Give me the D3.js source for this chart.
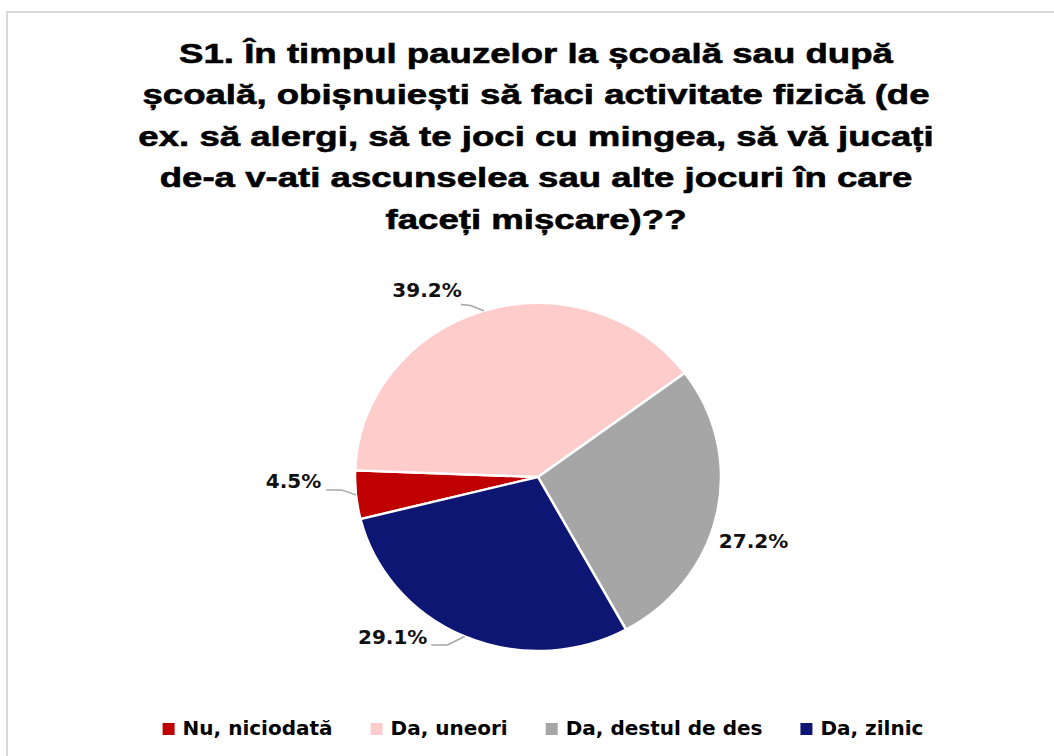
<!DOCTYPE html>
<html>
<head>
<meta charset="utf-8">
<script src="https://cdn.jsdelivr.net/npm/d3@7/dist/d3.min.js"></script>
<style>
  html, body { margin: 0; padding: 0; background: #fff; }
  svg { display: block; }
</style>
</head>
<body>
<svg id="chart" width="1054" height="756"></svg>
<script>
// ---- data ----
const categories = ["Nu, niciodată", "Da, uneori", "Da, destul de des", "Da, zilnic"];
const values = [4.5, 39.2, 27.2, 29.1];
const colors = ["#C00000", "#FFCCCC", "#A6A6A6", "#0E1673"];
const titleLines = [
  "S1. În timpul pauzelor la școală sau după",
  "școală, obișnuiești să faci activitate fizică (de",
  "ex. să alergi, să te joci cu mingea, să vă jucați",
  "de-a v-ati ascunselea sau alte jocuri în care",
  "faceți mișcare)??"
];

// ---- layout ----
const W = 1054, H = 756;
const cx = 538, cy = 477, r = 183, ky = 0.951;
const startDeg = 256;
// label offsets from the slice's mid-angle point on the rim (Excel best-fit placement)
const labelLayout = [
  { dx: -62.5, dy: -14, leader: true, lx: 5, ly: 9, elbow: 15 },
  { dx: -56.7, dy: -21.3, leader: true, lx: -1, ly: 15, elbow: 10 },
  { dx: 36.7, dy: 27, leader: false },
  { dx: -72, dy: 0, leader: true, lx: 4, ly: 8.5, elbow: 16 }
];

const svg = d3.select("#chart");

// frame
svg.append("rect")
  .attr("x", 7).attr("y", 12)
  .attr("width", W + 20).attr("height", H + 20)
  .attr("fill", "#fff")
  .attr("stroke", "#D9D9D9").attr("stroke-width", 2);

// title
const titleFont = "'Liberation Sans', Arial, sans-serif";
const titleG = svg.append("g").attr("transform", `translate(536,0)`);
const titleInner = titleG.append("g");
const tl = titleInner.selectAll("text").data(titleLines).join("text")
  .attr("x", 0)
  .attr("y", (d, i) => 63 + i * 41.5)
  .attr("text-anchor", "middle")
  .attr("font-family", titleFont)
  .attr("font-weight", "bold")
  .attr("font-size", 28)
  .attr("fill", "#000")
  .attr("stroke", "#000")
  .attr("stroke-width", 0.6)
  .text(d => d);
const w0 = tl.nodes()[0].getComputedTextLength();
const sx = 714 / w0;
titleInner.attr("transform", `scale(${sx},1)`);

// pie
const pie = d3.pie().sort(null).value(d => d)
  .startAngle(startDeg * Math.PI / 180)
  .endAngle(startDeg * Math.PI / 180 + 2 * Math.PI);
const arcs = pie(values);
const arc = d3.arc().innerRadius(0).outerRadius(r);

const pieG = svg.append("g")
  .attr("transform", `translate(${cx},${cy}) scale(1,${ky})`);
pieG.selectAll("path").data(arcs).join("path")
  .attr("d", arc)
  .attr("fill", (d, i) => colors[i])
  .attr("stroke", "#fff")
  .attr("stroke-width", 2.5)
  .attr("stroke-linejoin", "round");

// labels
const fmt = d3.format(".1f");
const rim = a => [cx + r * Math.sin(a), cy - r * Math.cos(a) * ky];
const labelFont = "'DejaVu Sans', sans-serif";
const labG = svg.append("g");
arcs.forEach((d, i) => {
  const mid = (d.startAngle + d.endAngle) / 2;
  const p = rim(mid);
  const L = labelLayout[i];
  const x = p[0] + L.dx, y = p[1] + L.dy;
  const t = labG.append("text")
    .attr("x", x).attr("y", y).attr("dy", "0.36em")
    .attr("text-anchor", "middle")
    .attr("font-family", labelFont)
    .attr("font-weight", "bold")
    .attr("font-size", 20)
    .attr("fill", "#111")
    .text(fmt(values[i]) + "%");
  if (L.leader) {
    const tw = t.node().getComputedTextLength();
    const s = [x + tw / 2 + L.lx, y + L.ly];
    const e = [s[0] + L.elbow, s[1] + (i === 1 ? 1 : 0)];
    labG.insert("path", "text")
      .attr("d", d3.line()([s, e, p]))
      .attr("fill", "none")
      .attr("stroke", "#A6A6A6")
      .attr("stroke-width", 1.5);
  }
});

// legend
const legG = svg.append("g");
const sq = 12, gap = 8, itemGap = 38;
const items = legG.selectAll("g").data(categories).join("g");
items.append("rect")
  .attr("width", sq).attr("height", sq)
  .attr("y", 723)
  .attr("fill", (d, i) => colors[i]);
items.append("text")
  .attr("x", sq + gap)
  .attr("y", 735)
  .attr("font-family", labelFont)
  .attr("font-weight", "bold")
  .attr("font-size", 20)
  .attr("fill", "#000")
  .text(d => d);
let widths = items.select("text").nodes().map(n => n.getComputedTextLength());
let total = widths.reduce((a, w) => a + sq + gap + w, 0) + itemGap * (categories.length - 1);
let xPos = 543 - total / 2;
items.each(function (d, i) {
  d3.select(this).attr("transform", `translate(${xPos},0)`);
  xPos += sq + gap + widths[i] + itemGap;
});
</script>
</body>
</html>
